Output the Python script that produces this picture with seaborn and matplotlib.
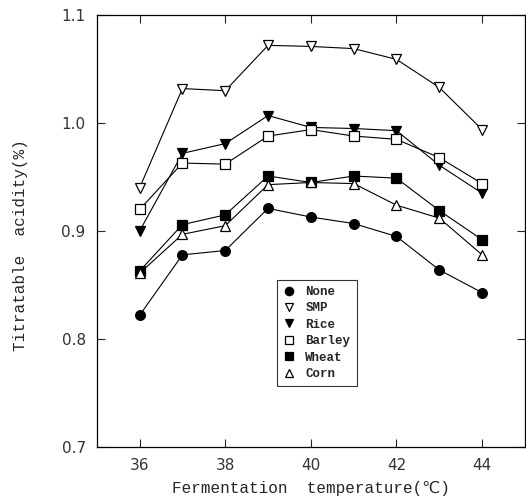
import numpy as np
import seaborn as sns
import pandas as pd
import matplotlib.pyplot as plt

temps = [36, 37, 38, 39, 40, 41, 42, 43, 44]
none_vals = [0.822, 0.878, 0.882, 0.921, 0.913, 0.907, 0.895, 0.864, 0.843]
smp_vals = [0.940, 1.032, 1.030, 1.072, 1.071, 1.069, 1.059, 1.033, 0.994]
rice_vals = [0.900, 0.972, 0.981, 1.007, 0.996, 0.995, 0.993, 0.961, 0.935]
barley_vals = [0.920, 0.963, 0.962, 0.988, 0.994, 0.988, 0.985, 0.968, 0.944]
wheat_vals = [0.863, 0.906, 0.915, 0.951, 0.945, 0.951, 0.949, 0.919, 0.892]
corn_vals = [0.861, 0.897, 0.905, 0.943, 0.945, 0.944, 0.924, 0.912, 0.878]

names = ['None', 'SMP', 'Rice', 'Barley', 'Wheat', 'Corn']
series = [none_vals, smp_vals, rice_vals, barley_vals, wheat_vals, corn_vals]

# marker, filled?
marker_style = {'None': ('o', True), 'SMP': ('v', False), 'Rice': ('v', True),
                'Barley': ('s', False), 'Wheat': ('s', True), 'Corn': ('^', False)}

dfs = pd.concat([pd.DataFrame({'Temp': temps, 'Acidity': v, 'Additive': n})
                 for n, v in zip(names, series)], ignore_index=True)

sns.set_style('ticks')
plt.rcParams['font.family'] = ['DejaVu Sans']
label_font = ['Liberation Mono', 'DejaVu Sans']

fig = plt.figure(figsize=(5.26, 5.04), dpi=100)
ax = fig.add_axes([0.184, 0.113, 0.814, 0.857])

for name in names:
    m, filled = marker_style[name]
    sub = dfs[dfs['Additive'] == name]
    sns.lineplot(data=sub, x='Temp', y='Acidity', ax=ax, color='black', linewidth=0.8,
                 marker=m, markersize=7, markeredgecolor='black', markeredgewidth=0.9,
                 markerfacecolor='black' if filled else 'white', label=name)

ax.set_xlim(35, 45)
ax.set_ylim(0.7, 1.1)
ax.set_xticks([36, 38, 40, 42, 44])
ax.set_yticks([0.7, 0.8, 0.9, 1.0, 1.1])
ax.set_yticklabels(['0.7', '0.8', '0.9', '1.0', '1.1'])
ax.tick_params(direction='in', top=True, right=True, length=6, width=0.8,
               labelsize=11, labelcolor='#333333', pad=8)
for s in ax.spines.values():
    s.set_linewidth(0.9)
    s.set_color('black')

ax.set_xlabel('Fermentation  temperature(\u2103)', family=label_font, fontsize=11.5, labelpad=6)
ax.set_ylabel('Titratable  acidity(%)', family=label_font, fontsize=11.5)
ax.yaxis.set_label_coords(-0.16, 0.468)

leg = ax.legend(loc='lower left', bbox_to_anchor=(0.42, 0.141), frameon=True, fancybox=False,
                edgecolor='black', prop={'family': 'Liberation Mono', 'weight': 'bold', 'size': 9},
                handlelength=1.0, handletextpad=0.8, labelspacing=0.35, borderpad=0.5,
                borderaxespad=0)
leg.get_frame().set_linewidth(0.8)
for line in leg.get_lines():
    line.set_linestyle('none')
    line.set_markersize(6)

fig.savefig('out.png', dpi=100)
